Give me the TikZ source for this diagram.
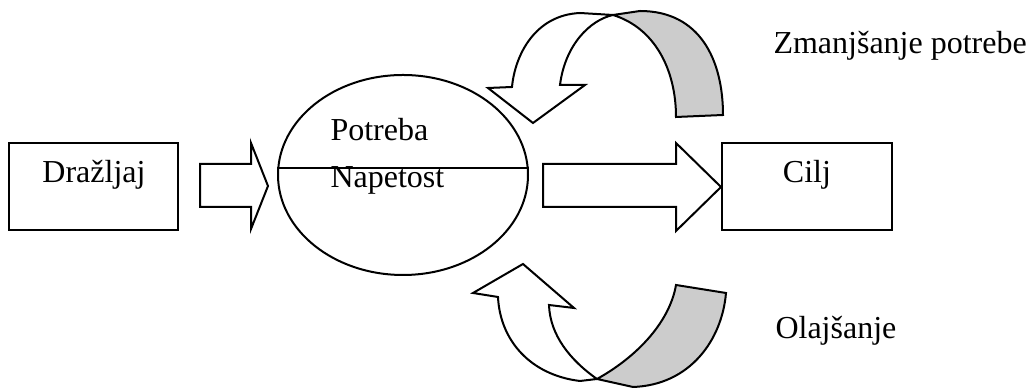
\documentclass[tikz,border=0pt]{standalone}
\usepackage{fontspec}
\setmainfont{Liberation Serif}
\usetikzlibrary{shapes.geometric}
\definecolor{bandGray}{RGB}{204,204,204}

\begin{document}
\begin{tikzpicture}[
    x=0.375pt, y=-0.375pt,
    box/.style={draw, line width=0.75pt, minimum width=63.5pt, minimum height=32.5pt, inner sep=0pt},
    need/.style={draw, ellipse, line width=0.75pt, minimum width=93.75pt, minimum height=75pt, inner sep=0pt},
    txt/.style={anchor=base west, inner sep=0pt, font=\fontsize{12}{14}\selectfont},
    flow/.style={draw, line width=0.75pt, fill=white, line join=miter},
    back/.style={draw, line width=0.75pt, fill=bandGray}
  ]
    \useasboundingbox (0,0) rectangle (1030,390);

    % main blocks
    \node[box] (drazljaj) at (93.5,186.5) {};
    \node[need] (need) at (403,175) {};
    \node[box] (cilj) at (807,186.5) {};
    \draw[line width=0.75pt] ([shift={(0.4,-7)}]need.west) -- ([shift={(-0.4,-7)}]need.east);

    \node[txt, anchor=base] (drazljajtxt) at (94,183) {Dražljaj};
    \node[txt] (potreba) at (330,141) {Potreba};
    \node[txt] (napetost) at (330,188) {Napetost};
    \node[txt, anchor=base] (ciljtxt) at (807,183) {Cilj};
    \node[txt] (zmanjsanje) at (773,54) {Zmanjšanje potrebe};
    \node[txt] (olajsanje) at (775,339) {Olajšanje};

    % straight block arrows
    \draw[flow] (200,164) -- (251,164) -- (251,143) -- (268,186) -- (251,229)
      -- (251,207) -- (200,207) -- cycle;
    \draw[flow] (543,164) -- (676,164) -- (676,143) -- (721,187) -- (676,231)
      -- (676,207) -- (543,207) -- cycle;

    % upper curved arrow
    \draw[back] (613,15) -- (640,11) .. controls (700,11) and (723,60) .. (723,115)
      -- (676,117) .. controls (676,70) and (655,28) .. (613,15) -- cycle;
    \draw[flow] (580,13) .. controls (535,15) and (515,55) .. (512,87)
      -- (488,88) -- (533,123) -- (585,85) -- (560,85)
      .. controls (565,45) and (590,20) .. (613,15) -- cycle;

    % lower curved arrow
    \draw[back] (676,285) -- (726,293) .. controls (722,340) and (690,385) .. (633,387)
      -- (597,379) .. controls (640,355) and (670,320) .. (676,285) -- cycle;
    \draw[flow] (580,381) .. controls (530,375) and (500,340) .. (498,297)
      -- (473,293) -- (523,264) -- (574,308) -- (549,305)
      .. controls (550,335) and (570,360) .. (597,379) -- cycle;
  \end{tikzpicture}
\end{document}
